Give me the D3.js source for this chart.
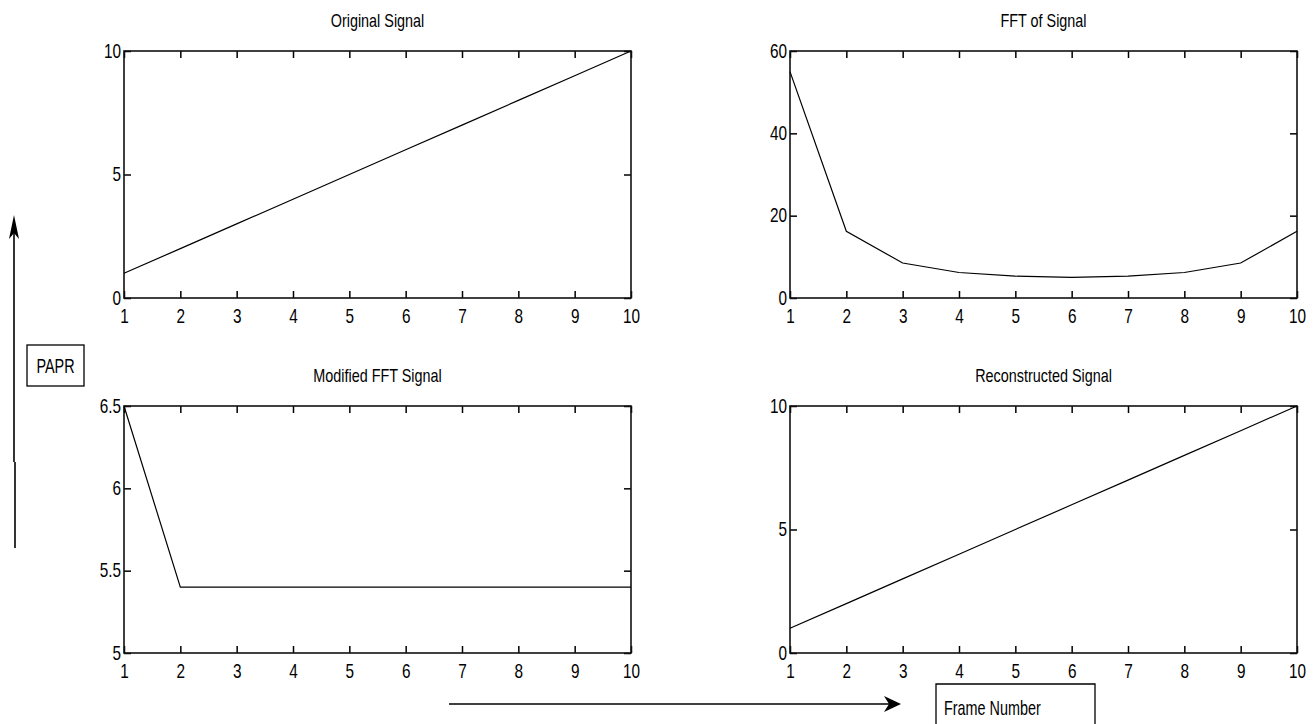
<!DOCTYPE html>
<html>
<head>
<meta charset="utf-8">
<script src="https://cdn.jsdelivr.net/npm/d3@7"></script>
<style>
  body { margin: 0; background: #fff; }
  text { font-family: "Liberation Sans", Arial, sans-serif; fill: #000; }
</style>
</head>
<body>
<div id="chart"></div>
<script>
// data
var frames = [1, 2, 3, 4, 5, 6, 7, 8, 9, 10];
var originalSignal = [1, 2, 3, 4, 5, 6, 7, 8, 9, 10];
var fftSignal = [55, 16.2, 8.5, 6.2, 5.3, 5.0, 5.3, 6.2, 8.5, 16.2];
var modifiedFft = [6.5, 5.4, 5.4, 5.4, 5.4, 5.4, 5.4, 5.4, 5.4, 5.4];
var reconstructed = [1, 2, 3, 4, 5, 6, 7, 8, 9, 10];
var titles = ["Original Signal", "FFT of Signal", "Modified FFT Signal", "Reconstructed Signal"];
var yTicks = [[0, 5, 10], [0, 20, 40, 60], [5, 5.5, 6, 6.5], [0, 5, 10]];
var yDomains = [[0, 10], [0, 60], [5, 6.5], [0, 10]];

// layout
var W = 1313, H = 724;
var cols = [124, 790], rows = [51, 406];
var pw = 507, ph = 247;
var tickSx = 0.73, titleSx = 0.8, labelSx = 0.72;

var svg = d3.select("#chart").append("svg")
    .attr("width", W)
    .attr("height", H);
svg.append("rect").attr("width", W).attr("height", H).attr("fill", "#fff");

var series = [originalSignal, fftSignal, modifiedFft, reconstructed];

series.forEach(function(vals, i) {
  var left = cols[i % 2], top = rows[Math.floor(i / 2)];
  var g = svg.append("g").attr("transform", "translate(" + left + "," + top + ")");

  var x = d3.scaleLinear().domain([1, 10]).range([0, pw]);
  var y = d3.scaleLinear().domain(yDomains[i]).range([ph, 0]);

  // bottom axis with labels, ticks pointing inward
  var bx = g.append("g").attr("transform", "translate(0," + ph + ")")
      .call(d3.axisBottom(x).tickValues(frames).tickSizeInner(-7).tickSizeOuter(0).tickPadding(10));
  // top axis, ticks only
  var tx = g.append("g")
      .call(d3.axisTop(x).tickValues(frames).tickSizeInner(-7).tickSizeOuter(0).tickFormat(""));
  // left axis with labels
  var ly = g.append("g")
      .call(d3.axisLeft(y).tickValues(yTicks[i]).tickSizeInner(-7).tickSizeOuter(0).tickPadding(3)
        .tickFormat(d3.format("~g")));
  // right axis, ticks only
  var ry = g.append("g").attr("transform", "translate(" + pw + ",0)")
      .call(d3.axisRight(y).tickValues(yTicks[i]).tickSizeInner(-7).tickSizeOuter(0).tickFormat(""));

  g.selectAll(".domain").remove();
  g.selectAll(".tick line").attr("stroke", "#000").attr("stroke-width", 1.5);

  bx.selectAll("text")
      .attr("font-size", 21)
      .attr("font-family", "Liberation Sans, Arial, sans-serif")
      .attr("transform", "scale(" + tickSx + ",1)");
  ly.selectAll("text")
      .attr("font-size", 21)
      .attr("font-family", "Liberation Sans, Arial, sans-serif")
      .attr("x", -3 / tickSx)
      .attr("dy", "0.3em")
      .attr("transform", "scale(" + tickSx + ",1)");

  // frame
  g.append("rect")
      .attr("width", pw).attr("height", ph)
      .attr("fill", "none").attr("stroke", "#111").attr("stroke-width", 1.6);

  // the signal
  var line = d3.line()
      .x(function(d, k) { return x(frames[k]); })
      .y(function(d) { return y(d); });
  g.append("path")
      .datum(vals)
      .attr("d", line)
      .attr("fill", "none")
      .attr("stroke", "#000")
      .attr("stroke-width", 1.2);

  // title
  g.append("g").attr("transform", "translate(" + (pw / 2) + ",-24)")
    .append("text")
      .attr("text-anchor", "middle")
      .attr("font-size", 18)
      .attr("transform", "scale(" + titleSx + ",1)")
      .text(titles[i]);
});

// PAPR arrow (vertical) and label box
svg.append("line").attr("x1", 14).attr("x2", 14).attr("y1", 228).attr("y2", 462)
    .attr("stroke", "#000").attr("stroke-width", 1.6);
svg.append("line").attr("x1", 15).attr("x2", 15).attr("y1", 462).attr("y2", 548)
    .attr("stroke", "#000").attr("stroke-width", 1.6);
svg.append("path").attr("d", "M14,215 L9,239 L14,233 L19,239 Z").attr("fill", "#000");

svg.append("rect").attr("x", 27).attr("y", 345).attr("width", 57).attr("height", 41)
    .attr("fill", "none").attr("stroke", "#000").attr("stroke-width", 1.3);
svg.append("g").attr("transform", "translate(55.5,373)")
  .append("text")
    .attr("text-anchor", "middle")
    .attr("font-size", 20)
    .attr("transform", "scale(" + labelSx + ",1)")
    .text("PAPR");

// Frame Number arrow (horizontal) and label box
svg.append("line").attr("x1", 449).attr("x2", 893).attr("y1", 704).attr("y2", 704)
    .attr("stroke", "#000").attr("stroke-width", 1.6);
svg.append("path").attr("d", "M901,704 L884,696 L889,704 L884,712 Z").attr("fill", "#000");

svg.append("path").attr("d", "M936,730 L936,684 L1095,684 L1095,730")
    .attr("fill", "none").attr("stroke", "#000").attr("stroke-width", 1.3);
svg.append("g").attr("transform", "translate(944,715)")
  .append("text")
    .attr("font-size", 20)
    .attr("transform", "scale(" + labelSx + ",1)")
    .text("Frame Number");
</script>
</body>
</html>
